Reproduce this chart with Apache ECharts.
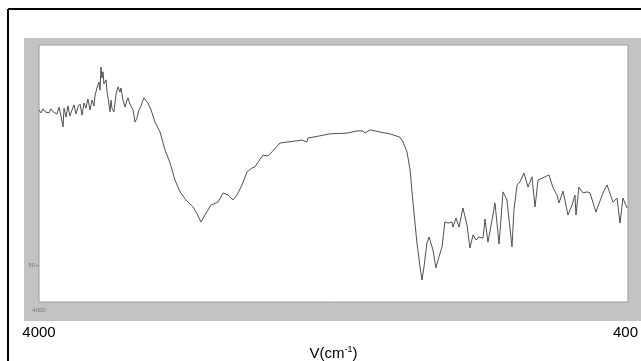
<!DOCTYPE html>
<html>
<head>
<meta charset="utf-8">
<script src="https://cdn.jsdelivr.net/npm/echarts@6/dist/echarts.min.js"></script>
<style>
  html, body { margin: 0; padding: 0; background: #fff; }
  #chart { width: 641px; height: 361px; }
</style>
</head>
<body>
<div id="chart"></div>
<script>
// wavenumber (cm-1) from left to right
const wavenumbers = [
  4000, 3988, 3976, 3963, 3951, 3939, 3927, 3914, 3902, 3890, 3878, 3866, 3853, 3847, 3835, 3823,
  3811, 3798, 3786, 3774, 3762, 3749, 3737, 3725, 3713, 3701, 3688, 3676, 3664, 3658, 3646, 3633,
  3627, 3621, 3615, 3609, 3603, 3590, 3584, 3578, 3566, 3560, 3554, 3542, 3529, 3517, 3505, 3499,
  3487, 3474, 3462, 3456, 3444, 3438, 3425, 3413, 3401, 3389, 3377, 3364, 3358, 3346, 3334, 3315,
  3291, 3260, 3230, 3199, 3169, 3138, 3102, 3059, 3034, 3010, 2979, 2949, 2906, 2875, 2845, 2814,
  2790, 2759, 2729, 2698, 2680, 2661, 2631, 2600, 2576, 2527, 2478, 2423, 2393, 2362, 2356, 2325,
  2221, 2117, 2056, 2020, 2007, 1977, 1916, 1855, 1794, 1775, 1751, 1732, 1714, 1690, 1671, 1659,
  1647, 1629, 1616, 1592, 1574, 1555, 1537, 1519, 1500, 1476, 1470, 1451, 1433, 1409, 1384, 1366,
  1347, 1329, 1311, 1286, 1274, 1256, 1231, 1213, 1188, 1164, 1140, 1109, 1097, 1078, 1060, 1036,
  1011, 987, 968, 950, 907, 883, 858, 834, 822, 797, 767, 742, 724, 718, 700, 675,
  651, 632, 596, 553, 528, 492, 467, 449, 431, 406
]

// transmittance, same order
const transmittance = [
  92.3, 91.5, 92.6, 91.8, 92.3, 91.5, 92.6, 91.8, 92.3, 91.2, 93.1, 90.7, 87.7, 92.8, 90.4, 93.4,
  90.7, 92.3, 93.7, 91.2, 93.1, 93.9, 90.9, 94.2, 92.8, 95.3, 92.3, 95.0, 93.4, 96.1, 98.3, 99.9,
  97.7, 104.0, 101.0, 102.7, 99.4, 100.5, 97.2, 95.6, 91.8, 95.0, 92.8, 91.8, 96.7, 98.6, 97.2, 98.3,
  95.0, 93.1, 95.0, 95.6, 93.9, 93.7, 92.3, 89.0, 90.1, 92.3, 93.4, 95.0, 95.6, 94.8, 94.2, 92.3,
  89.0, 86.3, 81.4, 77.9, 73.2, 70.0, 67.8, 65.9, 64.0, 61.8, 64.2, 66.4, 67.2, 69.7, 69.1, 67.8,
  69.1, 71.9, 75.4, 76.5, 76.8, 78.1, 80.0, 79.8, 80.9, 83.3, 83.6, 83.9, 84.1, 83.6, 84.7, 84.9,
  85.8, 86.0, 86.6, 86.6, 86.0, 86.9, 86.3, 85.8, 84.9, 83.6, 80.9, 76.0, 67.0, 56.1, 49.5, 46.0,
  49.5, 56.1, 57.7, 54.2, 49.3, 52.3, 55.0, 61.8, 61.5, 61.8, 60.4, 62.9, 60.4, 65.6, 61.0, 54.7,
  58.3, 56.9, 57.7, 57.4, 62.6, 56.3, 62.3, 67.0, 55.8, 70.0, 67.8, 55.0, 65.1, 71.9, 72.7, 75.1,
  71.3, 74.1, 65.9, 73.2, 74.1, 74.6, 71.1, 69.1, 67.0, 70.2, 63.7, 66.4, 69.1, 63.7, 71.3, 69.7,
  70.0, 69.7, 64.5, 69.7, 71.9, 67.2, 68.3, 61.5, 68.3, 65.6
]

const yTickLabels = [50]
const innerXLabels = [4000]
const outerXLabels = [4000, 400]

const font = 'Liberation Sans, Arial, sans-serif'
const plain = v => String(v)

const chart = echarts.init(document.getElementById('chart'), null, { renderer: 'canvas' })

const option = {
  backgroundColor: '#fff',
  animation: false,
  graphic: [
    // grey frame round the plot
    { type: 'rect', z: -10, shape: { x: 24, y: 38, width: 620, height: 283 }, style: { fill: '#c3c3c3' } },
    // black outer border (left and top)
    { type: 'line', z: -5, shape: { x1: 8, y1: 9, x2: 8, y2: 361 }, style: { stroke: '#000', lineWidth: 2 } },
    { type: 'line', z: -5, shape: { x1: 8, y1: 9, x2: 641, y2: 9 }, style: { stroke: '#000', lineWidth: 2 } }
  ],
  grid: {
    left: 39,
    top: 45,
    right: 13,
    bottom: 59,
    outerBoundsMode: 'none',
    containLabel: false,
    show: true,
    backgroundColor: '#fff',
    borderColor: '#9a9a9a',
    borderWidth: 1
  },
  xAxis: [
    {
      type: 'value',
      min: 400,
      max: 4000,
      inverse: true,
      axisLine: { show: false },
      splitLine: { show: false },
      axisTick: { show: false },
      axisLabel: {
        customValues: innerXLabels,
        formatter: plain,
        fontSize: 6,
        color: '#777',
        margin: 5,
        fontFamily: font
      }
    },
    {
      type: 'value',
      min: 400,
      max: 4000,
      inverse: true,
      position: 'bottom',
      offset: 15,
      axisLine: { show: false },
      splitLine: { show: false },
      axisTick: { show: false },
      axisLabel: {
        customValues: outerXLabels,
        // the right end label sits a little inside the frame
        formatter: v => (v === 400 ? '{r|' + v + '}' : String(v)),
        fontSize: 15,
        color: '#000',
        margin: 8,
        fontFamily: font,
        rich: {
          r: { fontSize: 15, color: '#000', fontFamily: font, padding: [0, 5, 0, 0] }
        }
      },
      name: 'V(cm{sup|-1})',
      nameLocation: 'middle',
      nameGap: 28,
      nameTextStyle: {
        fontSize: 15,
        color: '#000',
        fontFamily: font,
        rich: {
          sup: { fontSize: 9, verticalAlign: 'top', padding: [0, 0, 8, 0], fontFamily: font }
        }
      }
    }
  ],
  yAxis: {
    type: 'value',
    min: 40,
    max: 110,
    axisLine: { show: false },
    splitLine: { show: false },
    axisTick: { show: true, length: 3, customValues: yTickLabels, lineStyle: { color: '#888' } },
    axisLabel: {
      customValues: yTickLabels,
      fontSize: 6,
      color: '#777',
      margin: 4,
      fontFamily: font
    }
  },
  series: [
    {
      type: 'line',
      xAxisIndex: 0,
      data: wavenumbers.map((w, i) => [w, transmittance[i]]),
      showSymbol: false,
      smooth: false,
      lineStyle: { color: '#505050', width: 1 }
    }
  ]
}

chart.setOption(option)
</script>
</body>
</html>
